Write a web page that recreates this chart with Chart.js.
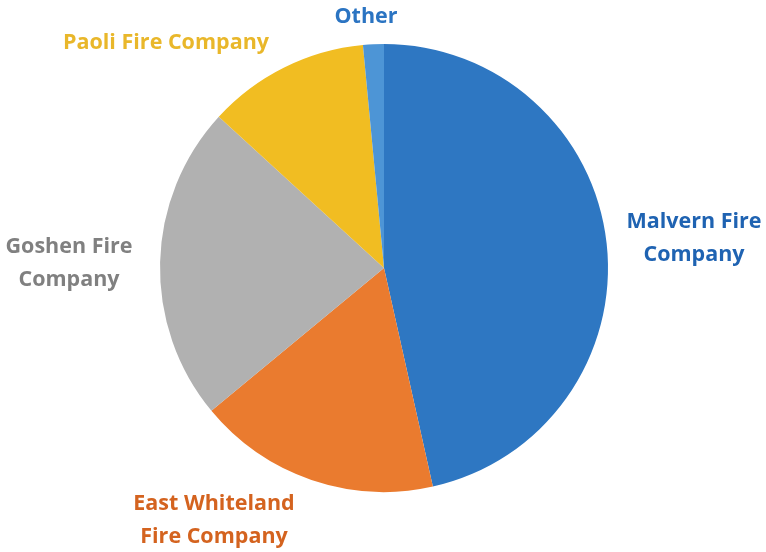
<!DOCTYPE html>
<html>
<head>
<meta charset="utf-8">
<script src="https://cdn.jsdelivr.net/npm/chart.js@4"></script>
<style>
  html, body { margin: 0; padding: 0; background: #fff; }
  #wrap { width: 766px; height: 552px; position: relative; }
</style>
</head>
<body>
<div id="wrap"><canvas id="pieChart" width="766" height="552"></canvas></div>
<script>
// slices, clockwise from 12 o'clock
const companies = ['Malvern Fire Company', 'East Whiteland Fire Company', 'Goshen Fire Company', 'Paoli Fire Company', 'Other'];
const shares = [46.5, 17.5, 22.8, 11.7, 1.5];
const sliceColors = ['#2E77C2', '#EA7B2F', '#B1B1B1', '#F1BD22', '#4D95D6'];

// label text as drawn in the picture (split over lines)
const labelLines = [
  ['Malvern Fire', 'Company'],
  ['East Whiteland', 'Fire Company'],
  ['Goshen Fire', 'Company'],
  ['Paoli Fire Company'],
  ['Other']
];
const labelColors = ['#1F63B2', '#D4631F', '#808080', '#E9B72A', '#2B74C2'];
const labelAt = [[694, 222], [214, 504], [69, 247], [166, 43], [366, 17]];

const outsideLabels = {
  id: 'outsideLabels',
  afterDraw(chart) {
    const ctx = chart.ctx;
    ctx.save();
    ctx.font = 'bold 21.5px "Open Sans", sans-serif';
    ctx.textAlign = 'center';
    ctx.textBaseline = 'middle';
    labelLines.forEach((lines, i) => {
      ctx.fillStyle = labelColors[i];
      lines.forEach((t, j) => ctx.fillText(t, labelAt[i][0], labelAt[i][1] + j * 33));
    });
    ctx.restore();
  }
};

new Chart(document.getElementById('pieChart').getContext('2d'), {
  type: 'pie',
  data: {
    labels: companies,
    datasets: [{
      data: shares,
      backgroundColor: sliceColors,
      borderWidth: 0
    }]
  },
  options: {
    responsive: false,
    animation: false,
    layout: { padding: { top: 44, bottom: 60, left: 160, right: 158 } },
    plugins: { legend: { display: false }, tooltip: { enabled: false } }
  },
  plugins: [outsideLabels]
});
</script>
</body>
</html>
